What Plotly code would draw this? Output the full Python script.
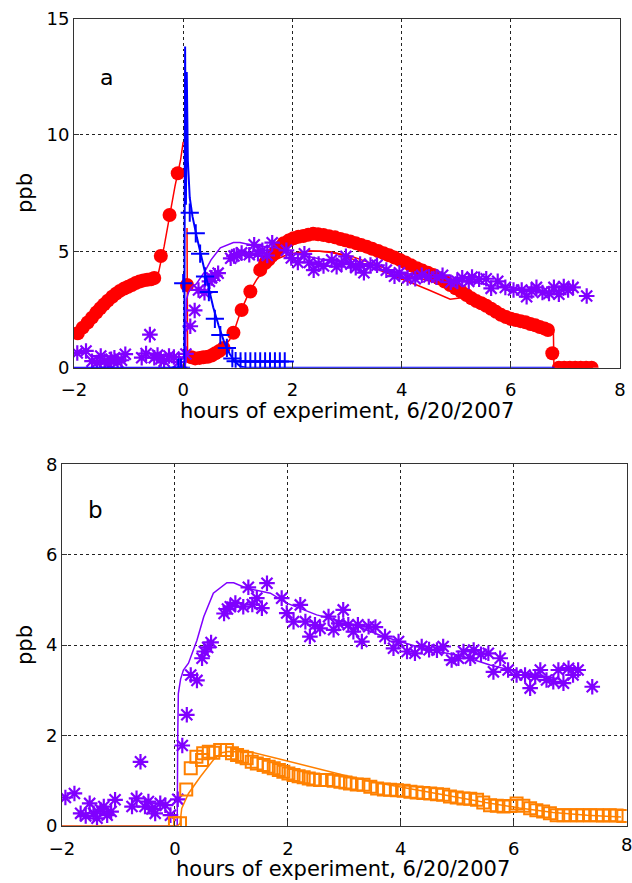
import plotly.graph_objects as go

# ---------------- Panel a data ----------------
red_x = [-1.93, -1.84, -1.75, -1.67, -1.59, -1.52, -1.45, -1.38, -1.30, -1.23, -1.16, -1.08, -1.01,
         -0.94, -0.87, -0.80, -0.73, -0.66, -0.59, -0.53, -0.41, -0.25, -0.10, 0.07,
         0.15, 0.22, 0.30, 0.37, 0.45, 0.52, 0.59, 0.66, 0.74, 0.92, 1.07, 1.23, 1.41, 1.50, 1.56,
         1.62, 1.68, 1.76, 1.84, 1.93, 2.02, 2.11, 2.20, 2.29, 2.38, 2.47, 2.57, 2.67, 2.78, 2.88,
         2.97, 3.06, 3.16, 3.26, 3.36, 3.46, 3.57, 3.67, 3.77, 3.87, 3.97, 4.07, 4.17, 4.28, 4.38,
         4.48, 4.58, 4.68, 4.79, 4.89, 4.99, 5.09, 5.19, 5.28, 5.37, 5.46, 5.55, 5.64, 5.73, 5.82,
         5.91, 6.00, 6.09, 6.18, 6.27, 6.36, 6.45, 6.53, 6.62, 6.68, 6.76, 6.88, 6.98, 7.08, 7.18,
         7.28, 7.38, 7.48]
red_y = [1.48, 1.72, 1.94, 2.15, 2.37, 2.55, 2.72, 2.88, 3.05, 3.18, 3.30, 3.40, 3.48,
         3.55, 3.64, 3.70, 3.75, 3.78, 3.80, 3.85, 4.80, 6.56, 8.35, 3.55,
         0.45, 0.40, 0.42, 0.45, 0.47, 0.52, 0.62, 0.72, 0.85, 1.50, 2.48, 3.27, 4.20, 4.50, 4.63,
         4.80, 4.95, 5.15, 5.35, 5.46, 5.56, 5.62, 5.66, 5.71, 5.75, 5.73, 5.70, 5.65, 5.60, 5.53,
         5.47, 5.42, 5.35, 5.27, 5.20, 5.11, 5.01, 4.92, 4.83, 4.73, 4.63, 4.52, 4.40, 4.27, 4.17,
         4.08, 3.98, 3.84, 3.70, 3.55, 3.41, 3.27, 3.12, 2.98, 2.86, 2.77, 2.66, 2.53, 2.40, 2.27,
         2.18, 2.10, 2.05, 2.00, 1.95, 1.88, 1.82, 1.75, 1.68, 1.62, 0.62, 0.0, 0.0, 0.0, 0.0,
         0.0, 0.0, 0.0]

red_pre_model_x = [-1.95, -1.75, -1.5, -1.25, -1.0, -0.75, -0.55, -0.45, -0.35, -0.25, -0.15, -0.05, 0.0]
red_pre_model_y = [1.5, 2.1, 2.75, 3.3, 3.65, 3.9, 4.0, 4.1, 5.2, 6.5, 7.8, 8.9, 9.7]

red_model_x = [0.07, 0.08, 0.15, 0.3, 0.5, 0.7, 0.85, 0.95, 1.05, 1.2, 1.35, 1.5, 1.7, 1.9, 2.1, 2.3,
               2.5, 2.7, 2.9, 3.1, 3.3, 3.5, 3.7, 3.9, 4.1, 4.3, 4.5, 4.7, 4.89, 5.1, 5.3, 5.5, 5.7,
               5.9, 6.1, 6.3, 6.5, 6.7, 6.78, 6.79, 7.5]
red_model_y = [6.0, 0.5, 0.3, 0.35, 0.45, 0.75, 1.2, 1.7, 2.4, 3.2, 3.8, 4.25, 4.65, 4.85, 4.95, 5.0,
               5.0, 4.95, 4.85, 4.68, 4.48, 4.28, 4.1, 3.91, 3.72, 3.53, 3.34, 3.13, 2.94, 3.0, 2.85,
               2.65, 2.4, 2.2, 2.05, 1.92, 1.78, 1.65, 1.62, 0.0, 0.0]

red_model2_x = [2.3, 2.7, 3.1, 3.5, 3.9, 4.3, 4.7]
red_model2_y = [5.02, 4.98, 4.77, 4.45, 4.10, 3.85, 3.60]

blue_x = [-0.09, -0.04, 0.0, 0.12, 0.23, 0.31, 0.40, 0.47, 0.58, 0.68, 0.80, 0.90,
          0.96, 1.05, 1.14, 1.23, 1.32, 1.41, 1.50, 1.59, 1.68, 1.77, 1.86]
blue_y = [0.0, 0.0, 3.63, 6.66, 5.77, 4.90, 3.92, 3.25, 2.10, 1.40, 0.85, 0.40,
          0.28, 0.27, 0.27, 0.27, 0.27, 0.27, 0.27, 0.27, 0.27, 0.27, 0.27]

blue_model_x = [-2.0, 0.02, 0.035, 0.05, 0.065, 0.085, 0.12, 0.17, 0.25, 0.35, 0.45, 0.55, 0.65,
                0.75, 0.85, 0.95, 1.05, 1.15, 6.8]
blue_model_y = [0.0, 0.0, 13.8, 7.0, 12.7, 8.9, 7.3, 6.5, 5.6, 4.6, 3.6, 2.6, 1.8,
                1.1, 0.6, 0.25, 0.05, 0.0, 0.0]

# ---------------- shared purple series ----------------
pur_x = [-1.94, -1.78, -1.67, -1.58, -1.51, -1.44, -1.38, -1.32, -1.26, -1.20, -1.13, -1.06,
         -0.76, -0.68, -0.61, -0.53, -0.47, -0.41, -0.35, -0.26, -0.17, -0.08, 0.05, 0.13,
         0.21, 0.28, 0.39, 0.48, 0.52, 0.58, 0.64, 0.87, 0.93, 0.98, 1.07, 1.21, 1.30, 1.37,
         1.45, 1.54, 1.63, 1.89, 1.98, 2.10, 2.22, 2.31, 2.39, 2.48, 2.57, 2.72, 2.81, 2.90,
         2.98, 3.07, 3.16, 3.24, 3.31, 3.43, 3.55, 3.72, 3.87, 3.96, 4.11, 4.25, 4.37, 4.50,
         4.64, 4.75, 4.90, 5.02, 5.11, 5.23, 5.29, 5.42, 5.55, 5.64, 5.76, 5.90, 6.05, 6.20,
         6.29, 6.38, 6.47, 6.58, 6.70, 6.79, 6.88, 6.97, 7.05, 7.14, 7.39]
pur_y = [0.63, 0.72, 0.28, 0.22, 0.50, 0.28, 0.17, 0.36, 0.43, 0.24, 0.32, 0.58,
         0.43, 0.61, 1.42, 0.43, 0.54, 0.38, 0.28, 0.50, 0.46, 0.24, 0.59, 1.78,
         2.46, 3.34, 3.22, 3.71, 3.86, 3.95, 4.06, 4.70, 4.80, 4.85, 4.93, 4.85, 5.28, 4.90,
         5.04, 4.82, 5.37, 5.04, 4.71, 4.52, 4.89, 4.52, 4.19, 4.45, 4.37, 4.63, 4.34, 4.48,
         4.78, 4.45, 4.30, 4.45, 4.08, 4.41, 4.40, 4.19, 3.93, 4.08, 3.86, 3.82, 3.97, 3.90,
         3.89, 3.97, 3.67, 3.71, 3.86, 3.71, 3.89, 3.80, 3.82, 3.41, 3.71, 3.45, 3.34, 3.34,
         3.05, 3.30, 3.45, 3.23, 3.19, 3.45, 3.16, 3.49, 3.34, 3.45, 3.08]

pur_model_x = [-2.0, 0.04, 0.05, 0.06, 0.10, 0.15, 0.24, 0.39, 0.51, 0.68, 0.92, 1.04, 1.27, 1.69,
               1.98, 2.51, 3.10, 3.69, 4.28, 4.70, 5.11, 5.58, 5.93, 6.40, 6.80]
pur_model_y = [0.0, 0.0, 2.0, 2.93, 3.25, 3.45, 3.60, 4.11, 4.63, 5.15, 5.38, 5.38, 5.26, 5.15,
               4.93, 4.67, 4.48, 4.19, 3.97, 3.85, 3.75, 3.56, 3.45, 3.35, 3.25]

# ---------------- Panel b orange ----------------
org_x = [0.0, 0.09, 0.20, 0.28, 0.38, 0.48, 0.50, 0.60, 0.68, 0.80, 0.92, 1.01, 1.10, 1.19, 1.27,
         1.36, 1.45, 1.57, 1.66, 1.75, 1.84, 1.92, 2.01, 2.10, 2.19, 2.28, 2.37, 2.45, 2.57, 2.69,
         2.81, 2.93, 3.02, 3.10, 3.22, 3.34, 3.46, 3.58, 3.70, 3.81, 3.93, 4.05, 4.17, 4.28, 4.40,
         4.52, 4.64, 4.75, 4.87, 4.99, 5.11, 5.23, 5.35, 5.46, 5.58, 5.70, 5.82, 5.94, 6.05, 6.17,
         6.29, 6.40, 6.52, 6.64, 6.76, 6.88, 7.00, 7.12, 7.23, 7.35, 7.47, 7.58, 7.70, 7.82, 7.94]
org_y = [0.06, 0.06, 0.81, 1.28, 1.53, 1.46, 1.61, 1.64, 1.62, 1.68, 1.68, 1.61, 1.57, 1.53, 1.50,
         1.42, 1.38, 1.35, 1.31, 1.28, 1.24, 1.20, 1.16, 1.13, 1.10, 1.08, 1.05, 1.03, 1.02, 1.02,
         1.00, 0.98, 0.96, 0.94, 0.92, 0.91, 0.87, 0.83, 0.81, 0.80, 0.79, 0.78, 0.76, 0.74, 0.73,
         0.72, 0.70, 0.69, 0.65, 0.63, 0.61, 0.60, 0.58, 0.52, 0.46, 0.45, 0.43, 0.44, 0.50, 0.45,
         0.39, 0.35, 0.32, 0.28, 0.24, 0.24, 0.24, 0.24, 0.24, 0.24, 0.24, 0.23, 0.24, 0.23, 0.22]

org_model_x = [-2.0, 0.05, 0.09, 0.12, 0.24, 0.45, 0.68, 0.83, 0.95, 1.33, 1.92, 2.51, 3.10, 3.7,
               4.3, 4.9, 5.5, 6.1, 6.7, 7.3, 7.9]
org_model_y = [0.0, 0.0, 0.06, 0.39, 0.72, 1.09, 1.46, 1.62, 1.65, 1.64, 1.46, 1.28, 1.09, 0.93,
               0.80, 0.66, 0.52, 0.40, 0.30, 0.24, 0.20]

x_ticks = [-2, 0, 2, 4, 6, 8]
ya_ticks = [0, 5, 10, 15]
yb_ticks = [0, 2, 4, 6, 8]

RED = "#ff0000"
BLUE = "#0000ff"
PURPLE = "#8000ff"
ORANGE = "#ff8000"
FONT = "DejaVu Sans, Liberation Sans, Arial, sans-serif"

fig = go.Figure()

# Panel a
fig.add_trace(go.Scatter(x=red_x, y=red_y, mode="markers", xaxis="x", yaxis="y",
                         marker=dict(symbol="circle", size=14, color=RED, line=dict(width=0))))
fig.add_trace(go.Scatter(x=red_pre_model_x, y=red_pre_model_y, mode="lines", xaxis="x", yaxis="y",
                         line=dict(color=RED, width=1.5)))
fig.add_trace(go.Scatter(x=red_model_x, y=red_model_y, mode="lines", xaxis="x", yaxis="y",
                         line=dict(color=RED, width=1.5)))
fig.add_trace(go.Scatter(x=red_model2_x, y=red_model2_y, mode="lines", xaxis="x", yaxis="y",
                         line=dict(color=RED, width=1.5)))
fig.add_trace(go.Scatter(x=pur_x, y=pur_y, mode="markers", xaxis="x", yaxis="y",
                         marker=dict(symbol="asterisk-open", size=13, color=PURPLE,
                                     line=dict(color=PURPLE, width=2.2))))
fig.add_trace(go.Scatter(x=pur_model_x, y=pur_model_y, mode="lines", xaxis="x", yaxis="y",
                         line=dict(color=PURPLE, width=1.5)))
fig.add_trace(go.Scatter(x=blue_x, y=blue_y, mode="markers", xaxis="x", yaxis="y",
                         marker=dict(symbol="cross-thin-open", size=13, color=BLUE,
                                     line=dict(color=BLUE, width=2))))
fig.add_trace(go.Scatter(x=blue_model_x, y=blue_model_y, mode="lines", xaxis="x", yaxis="y",
                         line=dict(color=BLUE, width=2)))

# Panel b
fig.add_trace(go.Scatter(x=pur_x, y=pur_y, mode="markers", xaxis="x2", yaxis="y2",
                         marker=dict(symbol="asterisk-open", size=13, color=PURPLE,
                                     line=dict(color=PURPLE, width=2.2))))
fig.add_trace(go.Scatter(x=pur_model_x, y=pur_model_y, mode="lines", xaxis="x2", yaxis="y2",
                         line=dict(color=PURPLE, width=1.5)))
fig.add_trace(go.Scatter(x=org_x, y=org_y, mode="markers", xaxis="x2", yaxis="y2",
                         marker=dict(symbol="square-open", size=12, color=ORANGE,
                                     line=dict(color=ORANGE, width=2))))
fig.add_trace(go.Scatter(x=org_model_x, y=org_model_y, mode="lines", xaxis="x2", yaxis="y2",
                         line=dict(color=ORANGE, width=1.5)))

W, H = 632, 883
def px_x(v):
    return v / W
def px_y(v):
    return 1 - v / H

axis_common = dict(showgrid=True, gridcolor="#222222", gridwidth=1, griddash="3px,3px",
                   showline=True, linecolor="#333333", linewidth=1, mirror=True,
                   ticks="inside", ticklen=5, tickcolor="#333333", zeroline=False,
                   automargin=False,
                   tickfont=dict(family=FONT, size=18, color="black"))

fig.update_layout(
    width=W, height=H, margin=dict(l=0, r=0, t=0, b=0, autoexpand=False),
    paper_bgcolor="white", plot_bgcolor="white", showlegend=False,
    xaxis=dict(domain=[px_x(74), px_x(620)], range=[-2, 8], tickvals=x_ticks, anchor="y",
               ticklabelstandoff=6, **axis_common),
    yaxis=dict(domain=[px_y(367.7), px_y(18.5)], range=[0, 15], tickvals=ya_ticks, anchor="x", **axis_common),
    xaxis2=dict(domain=[px_x(62), px_x(626.7)], range=[-2, 8], tickvals=x_ticks, anchor="y2",
                ticklabelstandoff=6, **axis_common),
    yaxis2=dict(domain=[px_y(826), px_y(464.3)], range=[0, 8], tickvals=yb_ticks, anchor="x2", **axis_common),
)

ann_font = dict(family=FONT, size=21, color="black")
def ann(text, x, y, xref="paper", yref="paper", font=ann_font, angle=0):
    fig.add_annotation(text=text, x=x, y=y, xref=xref, yref=yref, showarrow=False,
                       xanchor="center", yanchor="middle", textangle=angle, font=font)

ann("a", -1.4, 12.45, "x", "y", dict(family=FONT, size=22, color="black"))
ann("b", -1.41, 7.0, "x2", "y2", dict(family=FONT, size=23, color="black"))
ann("hours of experiment, 6/20/2007", px_x(347), px_y(411))
ann("hours of experiment, 6/20/2007", px_x(343), px_y(869))
ann("ppb", px_x(25), px_y(193), angle=-90)
ann("ppb", px_x(25), px_y(645), angle=-90)
# last bottom tick label, partly cut by the right edge as in the reference
fig.add_annotation(text=str(x_ticks[-1]), x=x_ticks[-1], y=px_y(844), xref="x2", yref="paper",
                   showarrow=False, xanchor="center", yanchor="middle",
                   font=dict(family=FONT, size=18, color="black"))

fig.write_html("out.html", config={"displayModeBar": False},
               post_script="document.body.style.margin='0';document.body.style.overflow='hidden';")
